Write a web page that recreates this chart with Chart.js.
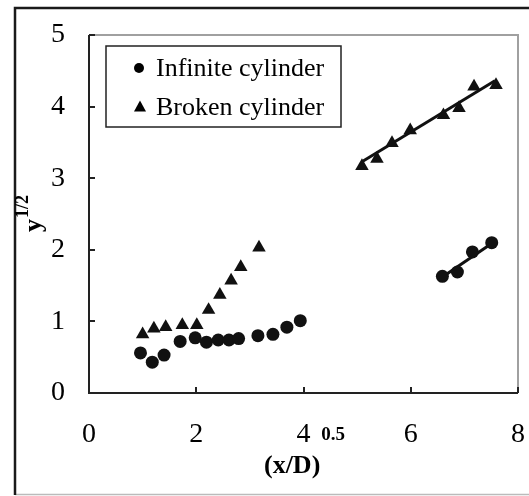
<!DOCTYPE html>
<html>
<head>
<meta charset="utf-8">
<script src="https://cdn.jsdelivr.net/npm/chart.js@4.4.1/dist/chart.umd.min.js"></script>
<style>
  html, body { margin: 0; padding: 0; background: #fff; }
  canvas { display: block; }
</style>
</head>
<body>
<canvas id="grafico" width="529" height="496"></canvas>
<script>
// Datos: x = (x/D)^0.5, y = y^1/2
const infiniteX = [0.96, 1.18, 1.40, 1.70, 1.98, 2.19, 2.41, 2.61, 2.79, 3.15, 3.43, 3.69, 3.94, 6.59, 6.87, 7.15, 7.51];
const infiniteY = [0.56, 0.43, 0.53, 0.72, 0.77, 0.71, 0.74, 0.74, 0.76, 0.80, 0.82, 0.92, 1.01, 1.63, 1.69, 1.97, 2.10];

const brokenX = [1.00, 1.21, 1.43, 1.74, 2.01, 2.23, 2.44, 2.65, 2.83, 3.17, 5.09, 5.37, 5.65, 5.99, 6.61, 6.90, 7.18, 7.59];
const brokenY = [0.82, 0.90, 0.92, 0.95, 0.95, 1.16, 1.37, 1.57, 1.76, 2.03, 3.17, 3.27, 3.49, 3.67, 3.88, 3.98, 4.28, 4.30];

// Rectas de ajuste (extremos)
const fitInfiniteX = [6.59, 7.57];
const fitInfiniteY = [1.62, 2.12];
const fitBrokenX = [5.09, 7.57];
const fitBrokenY = [3.23, 4.36];

const xTicks = [0, 2, 4, 6, 8];
const yTicks = [0, 1, 2, 3, 4, 5];

const seriesNames = ['Infinite cylinder', 'Broken cylinder'];

function pares(xs, ys) {
    return xs.map((x, i) => ({ x: x, y: ys[i] }));
}

const FUENTE = '"Liberation Serif", "Times New Roman", serif';

// Marco exterior, bordes del area, marcas de eje, titulos y leyenda
const decoracion = {
    id: 'decoracion',
    beforeDraw(chart) {
        const ctx = chart.ctx;
        ctx.save();
        ctx.fillStyle = '#fff';
        ctx.fillRect(0, 0, chart.width, chart.height);
        ctx.restore();
    },
    afterDraw(chart) {
        const ctx = chart.ctx;
        const a = chart.chartArea;
        const sx = chart.scales.x;
        const sy = chart.scales.y;
        ctx.save();

        // marco exterior
        ctx.lineCap = 'butt';
        ctx.strokeStyle = '#bbb';
        ctx.lineWidth = 1.5;
        ctx.beginPath();
        ctx.moveTo(15, 494.5); ctx.lineTo(529, 494.5);
        ctx.stroke();
        ctx.strokeStyle = '#1a1a1a';
        ctx.lineWidth = 2.5;
        ctx.beginPath();
        ctx.moveTo(529, 8); ctx.lineTo(15, 8); ctx.lineTo(15, 495);
        ctx.stroke();

        // bordes del area de trazado
        ctx.strokeStyle = '#a0a0a0';
        ctx.lineWidth = 2;
        ctx.beginPath();
        ctx.moveTo(a.left, a.top); ctx.lineTo(a.right, a.top); ctx.lineTo(a.right, a.bottom);
        ctx.stroke();
        ctx.strokeStyle = '#222';
        ctx.beginPath();
        ctx.moveTo(a.left, a.top); ctx.lineTo(a.left, a.bottom); ctx.lineTo(a.right, a.bottom);
        ctx.stroke();

        // marcas hacia dentro
        ctx.lineWidth = 2;
        yTicks.forEach(v => {
            const py = Math.round(sy.getPixelForValue(v));
            ctx.beginPath(); ctx.moveTo(a.left, py); ctx.lineTo(a.left + 6, py); ctx.stroke();
        });
        xTicks.forEach(v => {
            const px = Math.round(sx.getPixelForValue(v));
            ctx.beginPath(); ctx.moveTo(px, a.bottom); ctx.lineTo(px, a.bottom - 6); ctx.stroke();
        });

        // titulo eje x: (x/D)^0.5
        ctx.fillStyle = '#000';
        ctx.textBaseline = 'alphabetic';
        ctx.textAlign = 'left';
        ctx.font = 'bold 26px ' + FUENTE;
        const base = '(x/D)';
        const wBase = ctx.measureText(base).width;
        ctx.font = 'bold 19px ' + FUENTE;
        const sup = '0.5';
        const wSup = ctx.measureText(sup).width;
        const x0 = 304 - (wBase + wSup) / 2;
        ctx.font = 'bold 26px ' + FUENTE;
        ctx.fillText(base, x0, 473);
        ctx.font = 'bold 19px ' + FUENTE;
        ctx.fillText(sup, x0 + wBase + 1, 440);

        // titulo eje y: y^1/2 (girado)
        ctx.save();
        ctx.translate(41, 232);
        ctx.rotate(-Math.PI / 2);
        ctx.font = 'bold 26px ' + FUENTE;
        ctx.fillText('y', 0, 0);
        const wy = ctx.measureText('y').width;
        ctx.font = 'bold 18px ' + FUENTE;
        ctx.fillText('1/2', wy + 1, -13);
        ctx.restore();

        // leyenda
        ctx.strokeStyle = '#222';
        ctx.lineWidth = 1.5;
        ctx.strokeRect(106, 46, 235, 81);
        ctx.font = '26px ' + FUENTE;
        ctx.textBaseline = 'middle';
        ctx.fillStyle = '#000';
        const filas = [68, 107];
        seriesNames.forEach((nombre, i) => {
            const cy = filas[i];
            ctx.beginPath();
            if (i === 0) {
                ctx.arc(139, cy, 5, 0, Math.PI * 2);
            } else {
                ctx.moveTo(140, cy - 6.5);
                ctx.lineTo(146, cy + 4.5);
                ctx.lineTo(134, cy + 4.5);
                ctx.closePath();
            }
            ctx.fill();
            ctx.fillText(nombre, 156, cy + 1);
        });

        ctx.restore();
    }
};

const ctx = document.getElementById('grafico').getContext('2d');
new Chart(ctx, {
    type: 'scatter',
    data: {
        datasets: [
            {
                label: seriesNames[0],
                data: pares(infiniteX, infiniteY),
                pointStyle: 'circle',
                pointRadius: 6.5,
                backgroundColor: '#111',
                borderColor: '#111',
                borderWidth: 0
            },
            {
                label: seriesNames[1],
                data: pares(brokenX, brokenY),
                pointStyle: 'triangle',
                pointRadius: 7.8,
                backgroundColor: '#111',
                borderColor: '#111',
                borderWidth: 0
            },
            {
                label: 'fit1',
                data: pares(fitInfiniteX, fitInfiniteY),
                showLine: true,
                pointRadius: 0,
                borderColor: '#111',
                borderWidth: 3
            },
            {
                label: 'fit2',
                data: pares(fitBrokenX, fitBrokenY),
                showLine: true,
                pointRadius: 0,
                borderColor: '#111',
                borderWidth: 3
            }
        ]
    },
    options: {
        responsive: false,
        animation: false,
        layout: { padding: { top: 35, right: 11, left: 0, bottom: 0 } },
        plugins: {
            legend: { display: false },
            tooltip: { enabled: false }
        },
        scales: {
            x: {
                type: 'linear',
                min: 0,
                max: 8,
                afterBuildTicks: s => { s.ticks = xTicks.map(v => ({ value: v })); },
                afterFit: s => { s.height = 103; s.paddingLeft = 0; s.paddingRight = 0; },
                grid: { display: false, drawTicks: false },
                border: { display: false },
                ticks: {
                    color: '#000',
                    padding: 25,
                    font: { family: FUENTE, size: 28 }
                }
            },
            y: {
                type: 'linear',
                min: 0,
                max: 5,
                afterBuildTicks: s => { s.ticks = yTicks.map(v => ({ value: v })); },
                afterFit: s => { s.width = 89; s.paddingTop = 0; s.paddingBottom = 0; },
                grid: { display: false, drawTicks: false },
                border: { display: false },
                ticks: {
                    color: '#000',
                    padding: 24,
                    font: { family: FUENTE, size: 28 }
                }
            }
        }
    },
    plugins: [decoracion]
});
</script>
</body>
</html>
